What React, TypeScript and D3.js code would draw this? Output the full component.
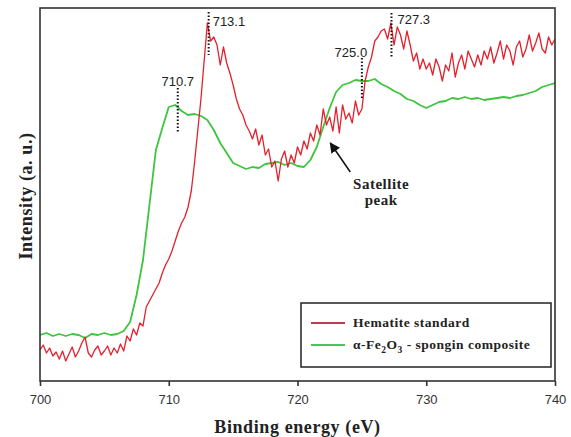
import { useEffect, useRef } from 'react'
import * as d3 from 'd3'

// binding energy grids (eV)
const redStep = 0.25
const greenStep = 0.5
const energyMin = 700
const energyMax = 740

// Hematite standard, intensity (a.u.) every 0.25 eV from 700 to 740
const hematite = [
  31, 36, 28, 33, 25, 29, 22, 30, 20, 27, 34, 24, 30, 38, 44, 28, 24, 31, 35, 26,
  30, 35, 26, 33, 28, 37, 30, 45, 40, 52, 46, 58, 55, 74, 80, 86, 92, 98, 108, 116,
  122, 130, 140, 150, 158, 164, 174, 190, 218, 250, 282, 320, 358, 340, 344, 336, 316, 334, 318, 308,
  296, 282, 272, 266, 256, 250, 242, 252, 236, 246, 226, 232, 214, 220, 200, 222, 230, 214, 226, 218,
  234, 226, 240, 232, 248, 240, 256, 246, 272, 256, 264, 250, 274, 248, 276, 262, 268, 258, 280, 266,
  272, 300, 314, 324, 340, 344, 350, 352, 342, 358, 336, 354, 346, 332, 350, 336, 320, 328, 312, 322,
  312, 318, 306, 322, 314, 300, 316, 310, 328, 304, 318, 326, 312, 330, 322, 314, 326, 316, 330, 322,
  334, 318, 328, 340, 322, 336, 330, 316, 334, 340, 324, 332, 346, 330, 338, 348, 332, 328, 344, 336,
  342,
]

// alpha-Fe2O3 - spongin composite, every 0.5 eV from 700 to 740
const composite = [
  46, 48, 45, 47, 45, 47, 46, 43, 47, 46,
  48, 46, 47, 50, 59, 86, 121, 176, 231, 253,
  274, 276, 270, 266, 267, 265, 261, 251, 238, 228,
  218, 215, 212, 214, 213, 217, 218, 219, 216, 218,
  215, 214, 221, 234, 254, 273, 289, 296, 298, 301,
  300, 300, 302, 297, 294, 290, 287, 282, 280, 276,
  273, 276, 279, 280, 283, 282, 284, 282, 283, 281,
  282, 283, 284, 283, 285, 286, 288, 290, 294, 296,
  298,
]

const xTicks = [700, 710, 720, 730, 740]

// peak markers: energy, top of dotted line, bottom of dotted line (a.u.)
const peakEnergies = [713.1, 710.7, 725.0, 727.3]
const peakLabels = ['713.1', '710.7', '725.0', '727.3']
const peakTop = [369, 293, 323, 368]
const peakBottom = [326, 248, 281, 324]

export default function App() {
  const svgRef = useRef(null)

  useEffect(() => {
    if (!svgRef.current) return
    const width = 571
    const height = 437
    const m = { left: 40, right: 16, top: 8, bottom: 56 }

    d3.select(svgRef.current).selectAll('*').remove()
    const svg = d3.select(svgRef.current).attr('width', width).attr('height', height)

    const x = d3.scaleLinear().domain([energyMin, energyMax]).range([m.left, width - m.right])
    const y = d3.scaleLinear().domain([0, 373]).range([height - m.bottom, m.top])

    const serif = '"Liberation Serif", "DejaVu Serif", serif'
    const sans = '"Liberation Sans", Arial, sans-serif'

    svg.append('rect').attr('width', width).attr('height', height).attr('fill', '#fff')

    svg.append('clipPath').attr('id', 'plot-clip')
      .append('rect')
      .attr('x', m.left).attr('y', m.top)
      .attr('width', width - m.left - m.right).attr('height', height - m.top - m.bottom)

    const line = d3.line<[number, number]>().x(d => x(d[0])).y(d => y(d[1]))

    const redPts = hematite.map((v, i) => [energyMin + i * redStep, v] as [number, number])
    const greenPts = composite.map((v, i) => [energyMin + i * greenStep, v] as [number, number])

    const plot = svg.append('g').attr('clip-path', 'url(#plot-clip)')

    plot.append('path')
      .attr('d', line(greenPts))
      .attr('fill', 'none')
      .attr('stroke', '#3ec43e')
      .attr('stroke-width', 1.8)
      .attr('stroke-linejoin', 'round')

    plot.append('path')
      .attr('d', line(redPts))
      .attr('fill', 'none')
      .attr('stroke', '#e3202c')
      .attr('stroke-width', 1.3)
      .attr('stroke-linejoin', 'round')

    // frame
    svg.append('rect')
      .attr('x', m.left).attr('y', m.top)
      .attr('width', width - m.left - m.right).attr('height', height - m.top - m.bottom)
      .attr('fill', 'none').attr('stroke', '#333').attr('stroke-width', 1.6)

    // x axis ticks + labels
    const xAxis = svg.append('g').attr('transform', `translate(0, ${height - m.bottom})`)
      .call(d3.axisBottom(x).tickValues(xTicks).tickSize(5).tickSizeOuter(0).tickFormat(d3.format('d')))
    xAxis.select('.domain').remove()
    xAxis.selectAll('line').attr('stroke', '#333').attr('stroke-width', 1.6)
    xAxis.selectAll('text')
      .attr('y', 14)
      .style('font-family', sans)
      .style('font-size', '13px')
      .style('fill', '#333')

    // axis titles
    svg.append('text')
      .attr('x', x(720)).attr('y', 433)
      .attr('text-anchor', 'middle')
      .style('font-family', serif)
      .style('font-weight', 'bold')
      .style('font-size', '18px')
      .style('letter-spacing', '0.6px')
      .style('fill', '#222')
      .text('Binding energy (eV)')

    svg.append('text')
      .attr('transform', `translate(32, ${y(185)}) rotate(-90)`)
      .attr('text-anchor', 'middle')
      .style('font-family', serif)
      .style('font-weight', 'bold')
      .style('font-size', '18px')
      .style('letter-spacing', '0.6px')
      .style('fill', '#222')
      .text('Intensity (a. u.)')

    // peak markers
    peakEnergies.forEach((e, i) => {
      svg.append('line')
        .attr('x1', x(e)).attr('x2', x(e))
        .attr('y1', y(peakTop[i])).attr('y2', y(peakBottom[i]))
        .attr('stroke', '#111')
        .attr('stroke-width', 2)
        .attr('stroke-dasharray', '1.5,2')
    })
    const labelPos = [
      { dx: 4, anchor: 'start', yy: 26 },
      { dx: 0, anchor: 'middle', yy: 86 },
      { dx: -11, anchor: 'middle', yy: 57 },
      { dx: 6, anchor: 'start', yy: 24 },
    ]
    peakLabels.forEach((t, i) => {
      svg.append('text')
        .attr('x', x(peakEnergies[i]) + labelPos[i].dx)
        .attr('y', labelPos[i].yy)
        .attr('text-anchor', labelPos[i].anchor)
        .style('font-family', sans)
        .style('font-size', '13px')
        .style('fill', '#222')
        .text(t)
    })

    // satellite arrow
    svg.append('defs').append('marker')
      .attr('id', 'arrowhead')
      .attr('viewBox', '0 0 10 10')
      .attr('refX', 9).attr('refY', 5)
      .attr('markerWidth', 7).attr('markerHeight', 7)
      .attr('orient', 'auto')
      .append('path').attr('d', 'M0,0 L10,5 L0,10 z').attr('fill', '#111')

    svg.append('line')
      .attr('x1', x(724.1)).attr('y1', y(209))
      .attr('x2', x(722.55)).attr('y2', y(238))
      .attr('stroke', '#111').attr('stroke-width', 1.5)
      .attr('marker-end', 'url(#arrowhead)')

    const sat = svg.append('text')
      .attr('text-anchor', 'middle')
      .style('font-family', serif)
      .style('font-weight', 'bold')
      .style('font-size', '15px')
      .style('letter-spacing', '0.5px')
      .style('fill', '#222')
    sat.append('tspan').attr('x', x(726.5)).attr('y', 189).text('Satellite')
    sat.append('tspan').attr('x', x(726.5)).attr('y', 205).text('peak')

    // legend
    const lg = svg.append('g').attr('transform', 'translate(301, 303)')
    lg.append('rect')
      .attr('width', 250).attr('height', 64)
      .attr('fill', '#fff').attr('stroke', '#222').attr('stroke-width', 1.5)

    const items = [
      { color: '#b8404c', yy: 20 },
      { color: '#4cc35c', yy: 42 },
    ]
    items.forEach(it => {
      lg.append('line')
        .attr('x1', 10).attr('x2', 44)
        .attr('y1', it.yy).attr('y2', it.yy)
        .attr('stroke', it.color).attr('stroke-width', 2)
    })
    const txtStyle = (s: any) => s
      .style('font-family', serif)
      .style('font-weight', 'bold')
      .style('font-size', '13.5px')
      .style('letter-spacing', '0.5px')
      .style('fill', '#222')

    txtStyle(lg.append('text').attr('x', 52).attr('y', 24)).text('Hematite standard')
    const t2 = txtStyle(lg.append('text').attr('x', 52).attr('y', 46))
    t2.append('tspan').text('α-Fe')
    t2.append('tspan').attr('dy', 4).style('font-size', '9.5px').text('2')
    t2.append('tspan').attr('dy', -4).text('O')
    t2.append('tspan').attr('dy', 4).style('font-size', '9.5px').text('3')
    t2.append('tspan').attr('dy', -4).text(' - spongin composite')
  }, [])

  return (
    <div style={{ position: 'absolute', left: 0, top: 0 }}>
      <svg ref={svgRef} style={{ display: 'block' }}></svg>
    </div>
  )
}
